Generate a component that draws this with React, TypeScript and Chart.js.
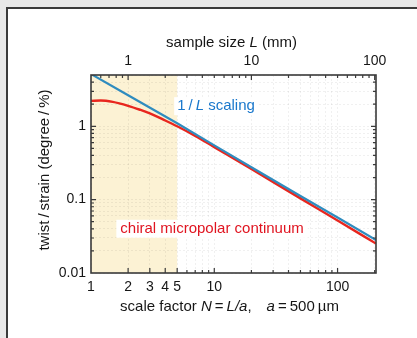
import React, { useEffect, useRef } from 'react';
import { Chart, registerables } from 'chart.js';

Chart.register(...registerables);

// ---------------- data ----------------
const X_MIN = 1;
const X_MAX = 205;
const Y_MIN = 0.01;
const Y_MAX = 5;
const A_MM = 0.5; // lattice constant a = 500 µm -> L = N * a (mm)

const N_BLUE = [1, 2, 5, 10, 20, 50, 100, 205];
const BLUE = [5.15, 2.65, 1.1, 0.55, 0.277, 0.112, 0.057, 0.0282];

const N_RED = [1, 1.2, 1.5, 2, 2.5, 3, 4, 5, 7, 10, 20, 50, 100, 205];
const RED = [2.22, 2.25, 2.15, 1.9, 1.68, 1.5, 1.2, 1.0, 0.74, 0.52, 0.262, 0.104, 0.052, 0.0252];

const X_TICKS = [1, 2, 3, 4, 5, 6, 7, 8, 9, 10, 20, 30, 40, 50, 60, 70, 80, 90, 100, 200];
const X_LABELS = [1, 2, 3, 4, 5, 10, 100];
const X2_TICKS = [0.5, 0.6, 0.7, 0.8, 0.9, 1, 2, 3, 4, 5, 6, 7, 8, 9, 10, 20, 30, 40, 50, 60, 70, 80, 90, 100];
const X2_LABELS = [1, 10, 100];
const Y_TICKS = [
  0.01, 0.02, 0.03, 0.04, 0.05, 0.06, 0.07, 0.08, 0.09,
  0.1, 0.2, 0.3, 0.4, 0.5, 0.6, 0.7, 0.8, 0.9,
  1, 2, 3, 4, 5,
];
const Y_LABELS = [0.01, 0.1, 1];

const SHADE_RANGE = [1, 5];

const BLUE_LABEL_POS = { x: 5.0, y: 1.88 };
const RED_LABEL_POS = { x: 1.73, y: 0.0401 };

// ---------------- styles ----------------
const FONT = "Arial, 'Liberation Sans', Helvetica, sans-serif";
const BLUE_COLOR = '#2f8cbf';
const RED_COLOR = '#e8261e';
const BLUE_TEXT = '#1a78cc';
const RED_TEXT = '#e01420';
const SHADE_COLOR = '#fcf2d4';
const GRID_COLOR = 'rgba(0,0,0,0.06)';
const FRAME_COLOR = '#3a3a3a';
const TEXT_COLOR = '#161616';

type Seg = { t: string; i?: boolean };

const TOP_TITLE: Seg[] = [{ t: 'sample size ' }, { t: 'L', i: true }, { t: ' (mm)' }];
const BOTTOM_TITLE: Seg[] = [
  { t: 'scale factor ' },
  { t: 'N', i: true },
  { t: '\u2009=\u2009' },
  { t: 'L/a', i: true },
  { t: ',\u2003' },
  { t: 'a', i: true },
  { t: '\u2009=\u2009500\u2009µm' },
];
const LEFT_TITLE: Seg[] = [{ t: 'twist\u2009/\u2009strain (degree\u2009/\u2009%)' }];
const BLUE_LABEL: Seg[] = [{ t: '1\u2009/\u2009' }, { t: 'L', i: true }, { t: ' scaling' }];
const RED_LABEL: Seg[] = [{ t: 'chiral micropolar continuum' }];

const inList = (list: number[], v: number) => list.some((l) => Math.abs(l - v) / l < 1e-9);

function measureSegs(ctx: CanvasRenderingContext2D, segs: Seg[], size: number) {
  return segs.map((s) => {
    ctx.font = `${s.i ? 'italic ' : ''}${size}px ${FONT}`;
    return ctx.measureText(s.t).width;
  });
}

function drawSegs(
  ctx: CanvasRenderingContext2D,
  segs: Seg[],
  x: number,
  y: number,
  size: number,
  color: string,
  align: 'center' | 'left' = 'center'
) {
  const widths = measureSegs(ctx, segs, size);
  const total = widths.reduce((a, b) => a + b, 0);
  let cx = align === 'center' ? x - total / 2 : x;
  ctx.fillStyle = color;
  ctx.textBaseline = 'middle';
  ctx.textAlign = 'left';
  segs.forEach((s, k) => {
    ctx.font = `${s.i ? 'italic ' : ''}${size}px ${FONT}`;
    ctx.fillText(s.t, cx, y);
    cx += widths[k];
  });
  return total;
}

const framePlugin = {
  id: 'framePlugin',
  beforeDraw(chart: any) {
    const { ctx, chartArea: a, scales } = chart;
    const x0 = scales.x.getPixelForValue(SHADE_RANGE[0]);
    const x1 = scales.x.getPixelForValue(SHADE_RANGE[1]);
    ctx.save();
    ctx.fillStyle = SHADE_COLOR;
    ctx.fillRect(x0, a.top, x1 - x0, a.bottom - a.top);
    ctx.restore();
  },
  afterDatasetsDraw(chart: any) {
    const { ctx, scales } = chart;
    ctx.save();
    const size = 15;
    {
      const px = scales.x.getPixelForValue(BLUE_LABEL_POS.x);
      const py = scales.y.getPixelForValue(BLUE_LABEL_POS.y);
      const w = measureSegs(ctx, BLUE_LABEL, size).reduce((a, b) => a + b, 0);
      ctx.fillStyle = '#ffffff';
      ctx.fillRect(px - 3, py - 9, w + 6, 18);
      drawSegs(ctx, BLUE_LABEL, px, py, size, BLUE_TEXT, 'left');
    }
    {
      const px = scales.x.getPixelForValue(RED_LABEL_POS.x);
      const py = scales.y.getPixelForValue(RED_LABEL_POS.y);
      const w = measureSegs(ctx, RED_LABEL, size).reduce((a, b) => a + b, 0);
      ctx.fillStyle = '#ffffff';
      ctx.fillRect(px - 4, py - 9, w + 8, 18);
      drawSegs(ctx, RED_LABEL, px, py, size, RED_TEXT, 'left');
    }
    ctx.restore();
  },
  afterDraw(chart: any) {
    const { ctx, chartArea: a, scales } = chart;
    ctx.save();
    ctx.strokeStyle = FRAME_COLOR;
    ctx.lineWidth = 1.2;
    ctx.beginPath();
    scales.x.ticks.forEach((t: any) => {
      if (t.value <= X_MIN || t.value >= X_MAX) return;
      const p = scales.x.getPixelForValue(t.value);
      const len = inList(X_LABELS, t.value) ? 5 : 3;
      ctx.moveTo(p, a.bottom);
      ctx.lineTo(p, a.bottom - len);
    });
    scales.x2.ticks.forEach((t: any) => {
      if (t.value <= X_MIN * A_MM || t.value >= X_MAX * A_MM) return;
      const p = scales.x2.getPixelForValue(t.value);
      const len = inList(X2_LABELS, t.value) ? 5 : 3;
      ctx.moveTo(p, a.top);
      ctx.lineTo(p, a.top + len);
    });
    scales.y.ticks.forEach((t: any) => {
      if (t.value <= Y_MIN || t.value >= Y_MAX) return;
      const p = scales.y.getPixelForValue(t.value);
      const len = inList(Y_LABELS, t.value) ? 5 : 3;
      ctx.moveTo(a.left, p);
      ctx.lineTo(a.left + len, p);
      ctx.moveTo(a.right, p);
      ctx.lineTo(a.right - len, p);
    });
    ctx.stroke();
    ctx.lineWidth = 1.6;
    ctx.strokeRect(a.left, a.top, a.right - a.left, a.bottom - a.top);

    const cx = (a.left + a.right) / 2;
    const cy = (a.top + a.bottom) / 2;
    drawSegs(ctx, TOP_TITLE, cx - 2, a.top - 32, 15, TEXT_COLOR);
    drawSegs(ctx, BOTTOM_TITLE, cx - 4, a.bottom + 34, 15, TEXT_COLOR);
    ctx.save();
    ctx.translate(a.left - 46, cy - 4);
    ctx.rotate(-Math.PI / 2);
    drawSegs(ctx, LEFT_TITLE, 0, 0, 15, TEXT_COLOR);
    ctx.restore();
    ctx.restore();
  },
};

const tickFont = { family: FONT, size: 14 };

export default function App() {
  const ref = useRef<HTMLCanvasElement>(null);

  useEffect(() => {
    document.body.style.margin = '0';
    const chart = new Chart(ref.current as HTMLCanvasElement, {
      type: 'line',
      data: {
        datasets: [
          {
            label: '1/L scaling',
            data: N_BLUE.map((n, i) => ({ x: n, y: BLUE[i] })),
            borderColor: BLUE_COLOR,
            borderWidth: 2.2,
            pointRadius: 0,
            tension: 0,
            xAxisID: 'x',
            yAxisID: 'y',
          },
          {
            label: 'chiral micropolar continuum',
            data: N_RED.map((n, i) => ({ x: n, y: RED[i] })),
            borderColor: RED_COLOR,
            borderWidth: 2.4,
            pointRadius: 0,
            cubicInterpolationMode: 'monotone',
            xAxisID: 'x',
            yAxisID: 'y',
          },
        ],
      },
      options: {
        responsive: false,
        animation: false,
        events: [],
        layout: { padding: { left: 0, right: 41, top: 0, bottom: 0 } },
        plugins: { legend: { display: false }, tooltip: { enabled: false } },
        scales: {
          x: {
            type: 'logarithmic',
            position: 'bottom',
            min: X_MIN,
            max: X_MAX,
            afterBuildTicks: (s: any) => {
              s.ticks = X_TICKS.map((v) => ({ value: v }));
            },
            afterFit: (s: any) => {
              s.height = 65;
            },
            ticks: {
              autoSkip: false,
              maxRotation: 0,
              padding: 6,
              font: tickFont,
              color: TEXT_COLOR,
              callback: (v: any) => (inList(X_LABELS, Number(v)) ? String(v) : ''),
            },
            grid: { color: GRID_COLOR, drawTicks: false, lineWidth: 1 },
            border: { display: false, dash: [2, 2] },
          },
          x2: {
            type: 'logarithmic',
            position: 'top',
            min: X_MIN * A_MM,
            max: X_MAX * A_MM,
            afterBuildTicks: (s: any) => {
              s.ticks = X2_TICKS.map((v) => ({ value: v }));
            },
            afterFit: (s: any) => {
              s.height = 66;
            },
            ticks: {
              autoSkip: false,
              maxRotation: 0,
              padding: 5,
              font: tickFont,
              color: TEXT_COLOR,
              callback: (v: any) => (inList(X2_LABELS, Number(v)) ? String(v) : ''),
            },
            grid: { display: false, drawTicks: false },
            border: { display: false },
          },
          y: {
            type: 'logarithmic',
            position: 'left',
            min: Y_MIN,
            max: Y_MAX,
            afterBuildTicks: (s: any) => {
              s.ticks = Y_TICKS.map((v) => ({ value: v }));
            },
            afterFit: (s: any) => {
              s.width = 83;
            },
            ticks: {
              autoSkip: false,
              padding: 5,
              font: tickFont,
              color: TEXT_COLOR,
              callback: (v: any) => (inList(Y_LABELS, Number(v)) ? String(v) : ''),
            },
            grid: { color: GRID_COLOR, drawTicks: false, lineWidth: 1 },
            border: { display: false, dash: [2, 2] },
          },
        },
      } as any,
      plugins: [framePlugin],
    });
    return () => chart.destroy();
  }, []);

  return (
    <div
      style={{
        position: 'fixed',
        left: 0,
        top: 0,
        width: 417,
        height: 338,
        background: '#e8e8e8',
        overflow: 'hidden',
      }}
    >
      <div
        style={{
          position: 'absolute',
          left: 6,
          top: 7,
          width: 440,
          height: 360,
          background: '#ffffff',
          borderLeft: '2px solid #3a3a3a',
          borderTop: '2px solid #3a3a3a',
        }}
      />
      <canvas ref={ref} width={409} height={329} style={{ position: 'absolute', left: 8, top: 9 }} />
    </div>
  );
}
